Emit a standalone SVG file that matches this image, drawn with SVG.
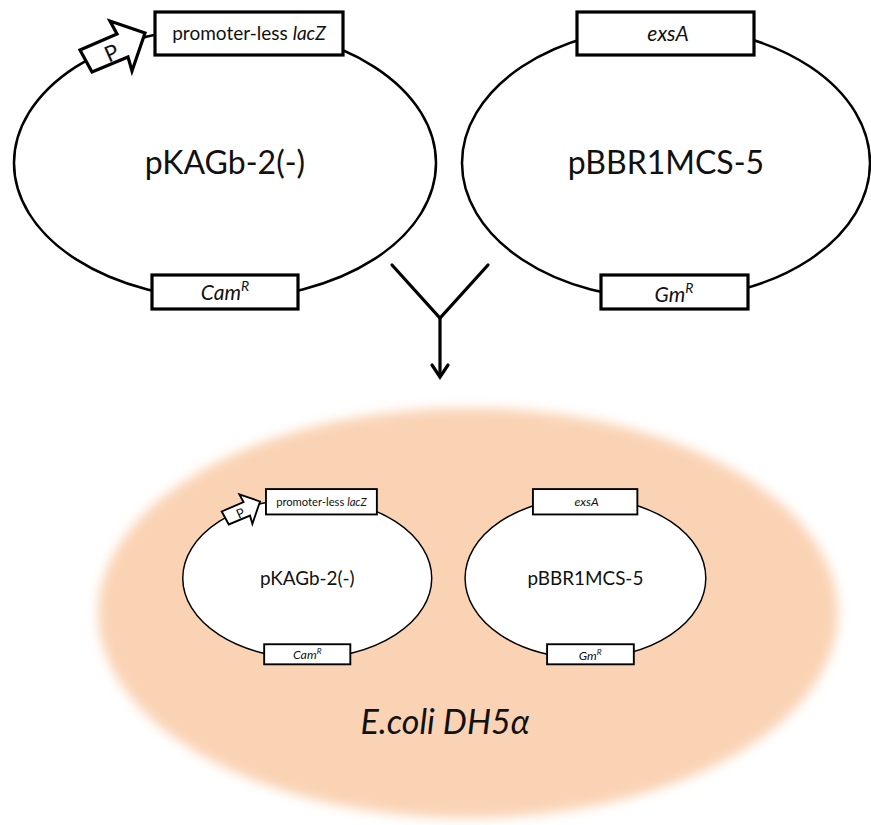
<svg xmlns="http://www.w3.org/2000/svg" width="871" height="825" viewBox="0 0 871 825">
<defs>
<style>
.bb{fill:#fff;stroke:#000;stroke-width:2.5}
.box{fill:#fff;stroke:#000;stroke-width:3.2}
.t{font-family:Lato,"Liberation Sans",sans-serif;fill:#111}
.lbl{font-size:32px;text-anchor:middle}
.g{font-size:19px;text-anchor:middle}
.r{font-size:21px;text-anchor:middle}
.it{font-style:italic}
.con{fill:none;stroke:#000;stroke-width:3.2;stroke-linecap:round;stroke-linejoin:miter}
</style>
<filter id="soft" x="-10%" y="-10%" width="120%" height="120%"><feGaussianBlur stdDeviation="6"/></filter>
</defs>
<rect width="871" height="825" fill="#fff"/>

<g id="cell">
<ellipse cx="468" cy="613" rx="370" ry="205" fill="#FAD3B4" filter="url(#soft)"/>
<text class="t it" x="445" y="734" font-size="34" text-anchor="middle">E.coli DH5α</text>
</g>

<g id="pKAGb">
<ellipse class="bb" cx="225" cy="163" rx="211" ry="136"/>
<polygon class="box" points="80,50 117,34 110,21 145,33 132,71 128,57 92,72"/>
<text class="t" x="105" y="61" font-size="22" transform="rotate(-24 111 53)">P</text>
<rect class="box" x="155" y="12" width="188" height="43"/>
<text class="t g" x="249" y="40">promoter-less <tspan class="it">lacZ</tspan></text>
<rect class="box" x="152" y="275" width="146" height="34"/>
<text class="t r" x="225" y="300"><tspan class="it">Cam<tspan dy="-9" font-size="14">R</tspan></tspan></text>
<text class="t lbl" x="225" y="174">pKAGb-2(-)</text>
</g>

<g id="pBBR1MCS">
<ellipse class="bb" cx="666" cy="163" rx="204" ry="136"/>
<rect class="box" x="577" y="12" width="177" height="43"/>
<text class="t r it" x="668" y="41">exsA</text>
<rect class="box" x="601" y="275" width="147" height="34"/>
<text class="t r" x="674" y="302"><tspan class="it">Gm<tspan dy="-9" font-size="14">R</tspan></tspan></text>
<text class="t lbl" x="666" y="174">pBBR1MCS-5</text>
</g>

<g id="connectors">
<polyline class="con" points="392,265 440,318 488,265"/>
<line class="con" x1="440" y1="318" x2="440" y2="376"/>
<polyline class="con" points="432,365 440,377 448,365"/>
</g>

<g id="inner-pKAGb" transform="matrix(0.59 0 0 0.59 174.5 482)">
<ellipse class="bb" cx="225" cy="163" rx="211" ry="136"/>
<polygon class="box" points="80,50 117,34 110,21 145,33 132,71 128,57 92,72"/>
<text class="t" x="105" y="61" font-size="22" transform="rotate(-24 111 53)">P</text>
<rect class="box" x="155" y="12" width="188" height="43"/>
<text class="t g" x="249" y="40">promoter-less <tspan class="it">lacZ</tspan></text>
<rect class="box" x="152" y="275" width="146" height="34"/>
<text class="t r" x="225" y="300"><tspan class="it">Cam<tspan dy="-9" font-size="14">R</tspan></tspan></text>
<text class="t lbl" x="225" y="174">pKAGb-2(-)</text>
</g>

<g id="inner-pBBR1MCS" transform="matrix(0.59 0 0 0.59 192.5 482)">
<ellipse class="bb" cx="666" cy="163" rx="204" ry="136"/>
<rect class="box" x="577" y="12" width="177" height="43"/>
<text class="t r it" x="668" y="41">exsA</text>
<rect class="box" x="601" y="275" width="147" height="34"/>
<text class="t r" x="674" y="302"><tspan class="it">Gm<tspan dy="-9" font-size="14">R</tspan></tspan></text>
<text class="t lbl" x="666" y="174">pBBR1MCS-5</text>
</g>
</svg>
